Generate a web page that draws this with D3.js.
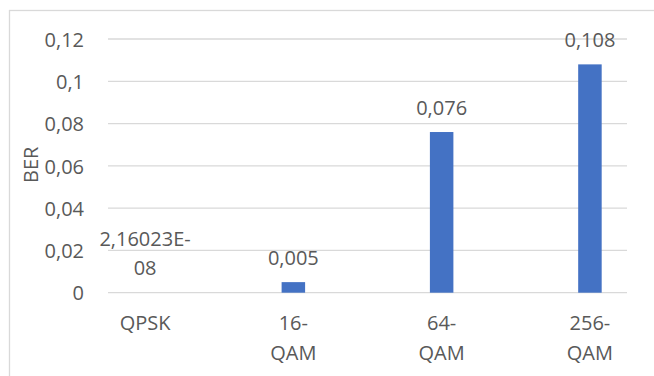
<!DOCTYPE html>
<html>
<head>
<meta charset="utf-8">
<script src="https://cdn.jsdelivr.net/npm/d3@7"></script>
<style>
  html, body { margin: 0; padding: 0; background: #fff; }
  svg { display: block; }
  text { font-family: "Open Sans", "Liberation Sans", sans-serif; fill: #595959; }
</style>
</head>
<body>
<svg id="chart" width="654" height="376"></svg>
<script>
// Bit error rate per modulation scheme
const categories = ["QPSK", "16-QAM", "64-QAM", "256-QAM"];
const berValues = [2.16023e-8, 0.005, 0.076, 0.108];
const yTicks = [0, 0.02, 0.04, 0.06, 0.08, 0.1, 0.12];
const yAxisTitle = "BER";

const svg = d3.select("#chart");
const W = 654, H = 376;
const plot = { left: 108, right: 627, top: 39, bottom: 292.7 };
const fontSize = 20;
const lineH = 29.5;

// outer chart frame (extends past the right/bottom edge)
svg.append("rect")
  .attr("x", 9.5).attr("y", 10.5)
  .attr("width", W + 10).attr("height", H + 10)
  .attr("fill", "#fff").attr("stroke", "#d9d9d9").attr("stroke-width", 1.3);

const x = d3.scalePoint().domain(categories).range([plot.left, plot.right]).padding(0.25);
const y = d3.scaleLinear().domain([0, 0.12]).range([plot.bottom, plot.top]);

const comma = s => s.replace(".", ",");
const fmtTick = v => comma(String(+v.toFixed(4)));
function fmtValue(v) {
  if (v !== 0 && Math.abs(v) < 1e-4) {
    const [m, e] = v.toExponential(5).split("e");
    const ex = Math.abs(+e);
    return comma(m) + "E" + (+e < 0 ? "-" : "+") + String(ex).padStart(2, "0");
  }
  return comma(String(v));
}
// break a label after a hyphen, as the category/value text wraps
const wrapHyphen = s => {
  const i = s.indexOf("-");
  return i >= 0 && i < s.length - 1 ? [s.slice(0, i + 1), s.slice(i + 1)] : [s];
};

// gridlines
svg.append("g").selectAll("line").data(yTicks).join("line")
  .attr("x1", plot.left).attr("x2", plot.right)
  .attr("y1", d => y(d)).attr("y2", d => y(d))
  .attr("stroke", "#d9d9d9").attr("stroke-width", 1.3);

// y axis labels
const yAxis = d3.axisLeft(y).tickValues(yTicks).tickFormat(fmtTick).tickSize(0).tickPadding(0);
const gy = svg.append("g").attr("transform", `translate(84,0)`).call(yAxis);
gy.select(".domain").remove();
gy.selectAll("text")
  .attr("font-size", fontSize).attr("font-family", null)
  .attr("fill", "#595959").attr("dy", "0.36em");

// y axis title
svg.append("text")
  .attr("transform", `translate(38,${(plot.top + plot.bottom) / 2 - 1}) rotate(-90)`)
  .attr("text-anchor", "middle")
  .attr("font-size", fontSize)
  .text(yAxisTitle);

// bars
const barW = 23.5;
svg.append("g").selectAll("rect").data(berValues).join("rect")
  .attr("x", (d, i) => x(categories[i]) - barW / 2)
  .attr("width", barW)
  .attr("y", d => y(d))
  .attr("height", d => y(0) - y(d))
  .attr("fill", "#4472c4");

// value labels
const vl = svg.append("g").selectAll("text").data(berValues).join("text")
  .attr("text-anchor", "middle")
  .attr("font-size", fontSize);
vl.each(function (d, i) {
  const lines = wrapHyphen(fmtValue(d));
  const cx = x(categories[i]);
  const baseY = y(d) - 17.5 - (lines.length - 1) * lineH;
  d3.select(this).selectAll("tspan").data(lines).join("tspan")
    .attr("x", cx).attr("y", (t, k) => baseY + k * lineH)
    .text(t => t);
});

// category labels
svg.append("g").selectAll("text").data(categories).join("text")
  .attr("text-anchor", "middle")
  .attr("font-size", fontSize)
  .each(function (c) {
    d3.select(this).selectAll("tspan").data(wrapHyphen(c)).join("tspan")
      .attr("x", x(c)).attr("y", (t, k) => 330 + k * lineH)
      .text(t => t);
  });
</script>
</body>
</html>
